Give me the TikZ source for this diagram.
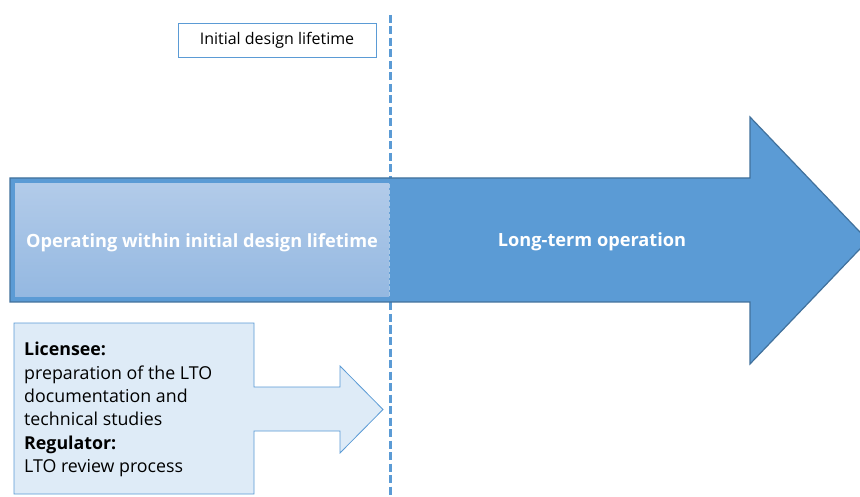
\documentclass[tikz,border=0pt]{standalone}
\usepackage{fontspec}
\setmainfont{Open Sans}
\usetikzlibrary{shadings}
\definecolor{mainblue}{HTML}{5B9BD5}
\definecolor{edgeblue}{HTML}{41719C}
\definecolor{paleblue}{HTML}{DEEBF7}
\definecolor{gradtop}{HTML}{B2CBE9}
\definecolor{gradbot}{HTML}{94B8E1}
\tikzset{
  bigarrow/.style={fill=mainblue, draw=edgeblue, line width=1.2pt, line join=miter},
  phasebox/.style={top color=gradtop, bottom color=gradbot, draw=none},
  smallarrow/.style={fill=paleblue, draw=mainblue, line width=0.8pt, line join=miter},
  labelbox/.style={draw=mainblue, fill=white, line width=0.9pt, minimum width=198pt, minimum height=34pt, inner sep=0pt, font=\fontsize{16}{18}\selectfont},
  boundary/.style={draw=mainblue, line width=2.6pt, dash pattern=on 8pt off 3.5pt},
  whitebold/.style={text=white, font=\fontsize{18.2}{21}\selectfont\bfseries},
  notes/.style={align=left, anchor=north west, inner sep=0pt, font=\fontsize{17.8}{23.4}\selectfont}
}
\begin{document}
\begin{tikzpicture}[x=1pt, y=-1pt]
  \useasboundingbox (0,0) rectangle (860,497);
  \clip (0,0) rectangle (860,497);
  \fill[white] (0,0) rectangle (860,497);

  % end of the initial design lifetime
  \coordinate (limtop) at (390.5,15);
  \coordinate (limbot) at (390.5,500);
  \draw[boundary] (limtop) -- (limbot);

  % long-term operation arrow
  \draw[bigarrow] (10,178) -- (750,178) -- (750,117) -- (868,240.5)
    -- (750,364) -- (750,302) -- (10,302) -- cycle;
  \shade[phasebox] (15,184) rectangle (389,297);
  \draw[white, opacity=0.45, line width=0.8pt, dash pattern=on 4pt off 2pt] (389,184) -- (389,297);
  \node[whitebold] (within) at (202,243) {Operating within initial design lifetime};
  \node[whitebold] (lto) at (592,242) {Long-term operation};

  % label of the boundary
  \node[labelbox] (initial) at (277,40) {Initial design lifetime};

  % licensing arrow
  \draw[smallarrow] (14,323) -- (254,323) -- (254,387) -- (340,387) -- (340,366)
    -- (383,409.5) -- (340,453) -- (340,431) -- (254,431) -- (254,494) -- (14,494) -- cycle;
  \node[notes] (tasks) at (24,342) {\textbf{Licensee:}\\preparation of the LTO\\documentation and\\technical studies\\\textbf{Regulator:}\\LTO review process};
\end{tikzpicture}
\end{document}
